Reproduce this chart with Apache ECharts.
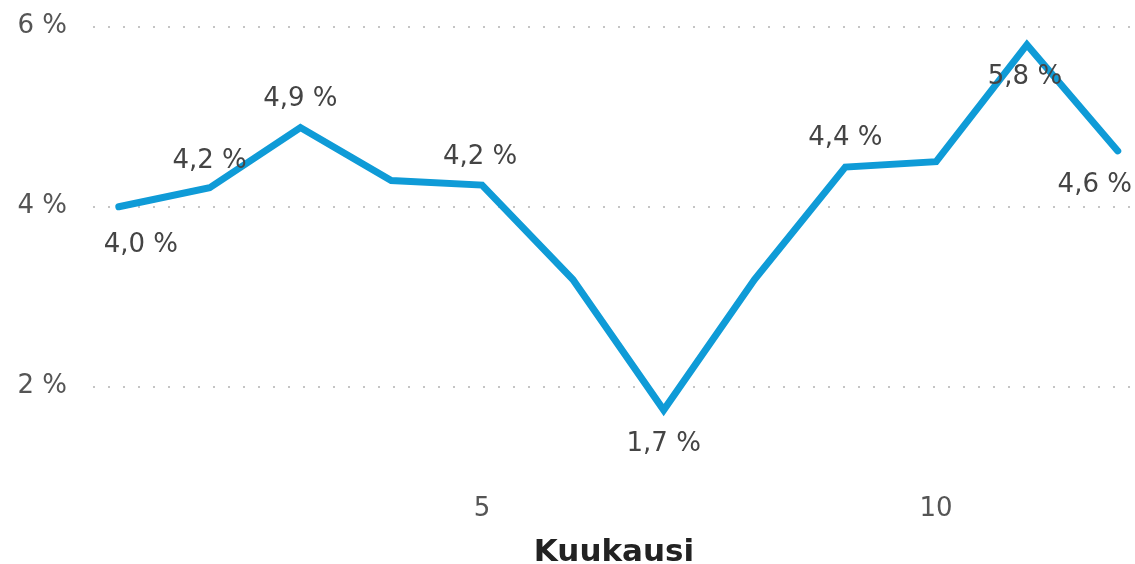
<!DOCTYPE html>
<html>
<head>
<meta charset="utf-8">
<script src="https://cdn.jsdelivr.net/npm/echarts@6/dist/echarts.min.js"></script>
<style>html,body{margin:0;padding:0;background:#fff;}#c{width:1135px;height:564px;}</style>
</head>
<body>
<div id="c"></div>
<script>
const months = [1,2,3,4,5,6,7,8,9,10,11,12];
const values = [4.0, 4.21, 4.88, 4.29, 4.24, 3.19, 1.74, 3.19, 4.44, 4.5, 5.8, 4.62];
const xTicks = [5, 10];
const yTicks = [2, 4, 6];
const xTitle = 'Kuukausi';

// label placement per point (style only): null = no label
const labelPlace = [
  {position:'bottom', offset:[22, 18]},
  {position:'top', offset:[0, -6]},
  {position:'top', offset:[0, -8]},
  null,
  {position:'top', offset:[-2, -7]},
  null,
  {position:'bottom', offset:[0, 14]},
  null,
  {position:'top', offset:[0, -8]},
  null,
  {position:'bottom', offset:[-2, 12]},
  {position:'bottom', offset:[-23, 14]}
];

const fmt = v => v.toFixed(1).replace('.', ',') + ' %';
const data = months.map((m, i) => {
  const lp = labelPlace[i];
  return {
    value: [m, values[i]],
    label: lp ? {show:true, position: lp.position, offset: lp.offset} : {show:false}
  };
});

const FONT = 'DejaVu Sans';
const chart = echarts.init(document.getElementById('c'), null, {renderer:'canvas'});
chart.setOption({
  animation: false,
  grid: {left: 93, right: 0, top: 26.7, bottom: 73.8, containLabel: false, outerBoundsMode: 'none'},
  xAxis: {
    type: 'value', min: 0.716, max: 12.19,
    axisLine: {show:false}, axisTick: {show:false, customValues: xTicks},
    splitLine: {show:false},
    axisLabel: {customValues: xTicks, color:'#555', fontFamily: FONT, fontSize: 26, margin: 6},
    name: xTitle, nameLocation: 'middle', nameGap: 47,
    nameTextStyle: {fontFamily: FONT, fontWeight: 'bold', fontSize: 31, color: '#222'}
  },
  yAxis: {
    type: 'value', min: 0.85, max: 6,
    axisLine: {show:false},
    axisTick: {show:false, customValues: yTicks},
    axisLabel: {customValues: yTicks, formatter: v => v + ' %', color:'#555', fontFamily: FONT, fontSize: 26, margin: 26},
    splitLine: {show:true, lineStyle: {color:'#c4c4c4', width: 2, type: [2, 13]}}
  },
  series: [{
    type: 'line',
    data: data,
    symbol: 'circle', symbolSize: 5, showSymbol: true,
    itemStyle: {color: '#0F9BD7'},
    lineStyle: {color: '#0F9BD7', width: 7, cap: 'round', join: 'miter'},
    label: {formatter: p => fmt(p.value[1]), color: '#444', fontFamily: FONT, fontSize: 26, distance: 5},
    clip: false
  }]
});
</script>
</body>
</html>
